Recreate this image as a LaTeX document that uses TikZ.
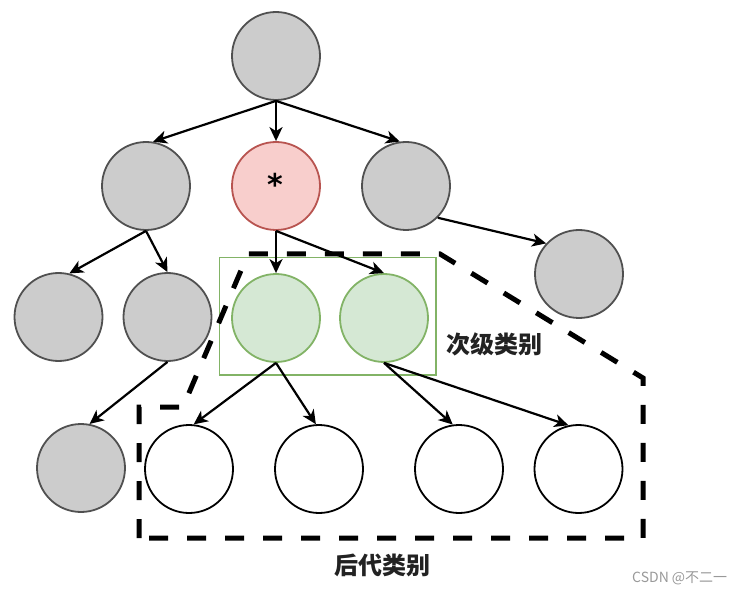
\documentclass[tikz,border=0pt]{standalone}
\usepackage{fontspec}
\newfontfamily\cjk{Noto Sans CJK SC}
\newfontfamily\djv{DejaVu Sans}
\usetikzlibrary{arrows.meta}
\definecolor{grayfill}{HTML}{CCCCCC}
\definecolor{graydraw}{HTML}{505050}
\definecolor{redfill}{HTML}{F8CECC}
\definecolor{reddraw}{HTML}{B85450}
\definecolor{greenfill}{HTML}{D5E8D4}
\definecolor{greendraw}{HTML}{82B366}
\definecolor{wmark}{HTML}{999999}
\definecolor{labtext}{HTML}{222222}
\tikzset{
  cnode/.style={circle, minimum size=88pt, inner sep=0pt, line width=1.8pt},
  graynode/.style={cnode, fill=grayfill, draw=graydraw},
  rednode/.style={cnode, fill=redfill, draw=reddraw},
  greennode/.style={cnode, fill=greenfill, draw=greendraw},
  whitenode/.style={cnode, fill=white, draw=black},
  edge/.style={line width=2.2pt, -{Stealth[length=14pt,width=13pt,inset=4pt]}},
  group/.style={line width=5pt, dash pattern=on 19pt off 19pt, black},
  lab/.style={font=\cjk\bfseries\fontsize{24pt}{26pt}\selectfont, text=labtext, inner sep=0pt}
}
\begin{document}
\begin{tikzpicture}[x=1pt, y=-1pt]
\useasboundingbox (0,0) rectangle (746,593);
% nodes
\node[graynode] (root) at (276,56) {};
\node[graynode] (l2a) at (146,186) {};
\node[rednode] (red) at (276,186) {};
\node[graynode] (l2c) at (406,186) {};
\node[graynode] (fr) at (579,274) {};
\node[graynode] (l3a) at (58.5,317) {};
\node[graynode] (l3b) at (167.5,317) {};
\node[draw=greendraw, line width=1.8pt, minimum width=216.5pt, minimum height=117.5pt, inner sep=0pt] (box) at (327.75,316.25) {};
\node[greennode] (g1) at (276,318) {};
\node[greennode] (g2) at (384,318) {};
\node[graynode] (l4a) at (81,468) {};
\node[whitenode] (w1) at (189,469) {};
\node[whitenode] (w2) at (319,469) {};
\node[whitenode] (w3) at (459,469) {};
\node[whitenode] (w4) at (578.5,469) {};
\node[font=\djv\bfseries\fontsize{30pt}{30pt}\selectfont, inner sep=0pt] (star) at (275,184) {*};
% dashed group outline
\draw[group] (139,538) -- (139,407) -- (183,407) -- (248,254) -- (440,254) -- (643,378) -- (643,538) -- cycle;
% edges
\draw[edge] (root.south) -- (l2a.81);
\draw[edge] (root.south) -- (red.north);
\draw[edge] (root.south) -- (l2c.98);
\draw[edge] (l2c.-45) -- (fr.137);
\draw[edge] (l2a.south) -- (l3a.76);
\draw[edge] (l2a.south) -- (l3b.north);
\draw[edge] (l3b.south) -- (l4a.79);
\draw[edge] (red.south) -- (g1.north);
\draw[edge] (red.south) -- (g2.north);
\draw[edge] (g1.south) -- (w1.84);
\draw[edge] (g1.south) -- (w2.94);
\draw[edge] (g2.south) -- (w3.98);
\draw[edge] (g2.south) -- (w4.103);
% labels
\node[lab, anchor=west] (sublab) at (446,344) {次级类别};
\node[lab] (desclab) at (382,565) {后代类别};
\node[font=\cjk\fontsize{14pt}{16pt}\selectfont, text=wmark, inner sep=0pt, anchor=west] (wm) at (632,578) {CSDN @不二一};
\end{tikzpicture}
\end{document}
